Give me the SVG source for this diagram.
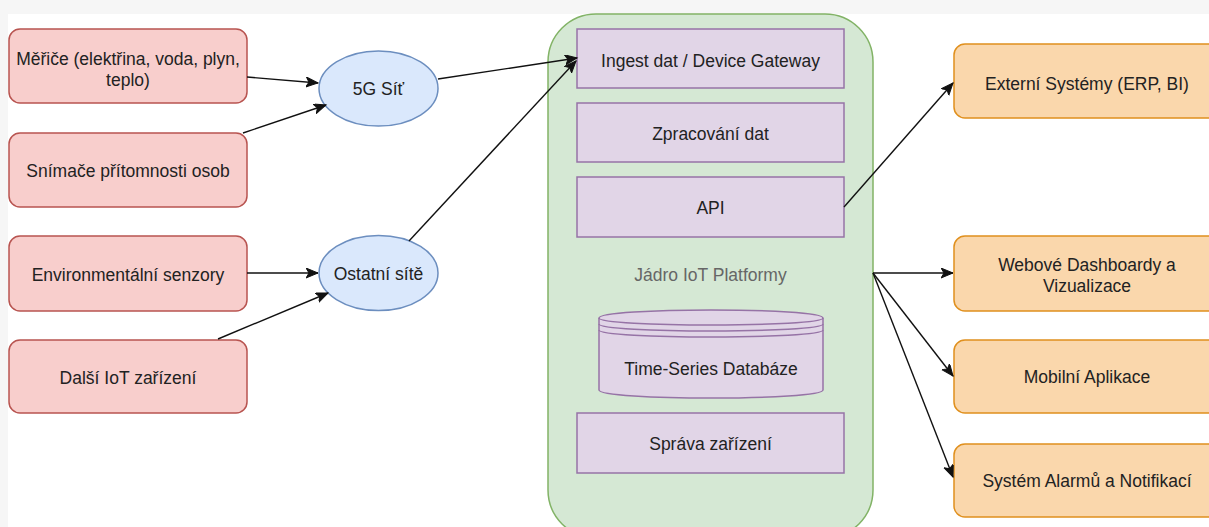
<svg xmlns="http://www.w3.org/2000/svg" width="1209" height="527" viewBox="0 0 1209 527">
  <defs>
    <style>
      text { font-family: "Liberation Sans", Arial, sans-serif; font-size: 17.5px; fill: #222; text-anchor: middle; }
      .dev { fill: #f8cecc; stroke: #b85450; stroke-width: 1.5; }
      .net { fill: #dae8fc; stroke: #6c8ebf; stroke-width: 1.5; }
      .core { fill: #d5e8d4; stroke: #82b366; stroke-width: 1.5; }
      .mod { fill: #e1d5e7; stroke: #9673a6; stroke-width: 1.5; }
      .out { fill: #fad7ac; stroke: #e0901e; stroke-width: 1.5; }
      .edge { fill: none; stroke: #111; stroke-width: 1.4; marker-end: url(#arrow); }
      .caption { fill: #666; }
    </style>
    <marker id="arrow" markerUnits="userSpaceOnUse" markerWidth="14" markerHeight="12" refX="12" refY="5" orient="auto">
      <path d="M0,0 L12,5 L0,10 L3,5 Z" fill="#111" stroke="#111" stroke-width="1"/>
    </marker>
  </defs>

  <!-- page background -->
  <rect x="0" y="0" width="1209" height="527" fill="#f6f6f6"/>
  <rect x="8" y="14" width="1201" height="513" fill="#ffffff"/>

  <!-- devices -->
  <g id="meters">
    <rect class="dev" x="9" y="29" width="238" height="74" rx="11"/>
    <text x="128" y="64.5">Měřiče (elektřina, voda, plyn,</text>
    <text x="128" y="85.5">teplo)</text>
  </g>
  <g id="occupancy">
    <rect class="dev" x="9" y="133" width="238" height="74" rx="11"/>
    <text x="128" y="176.5">Snímače přítomnosti osob</text>
  </g>
  <g id="env-sensors">
    <rect class="dev" x="9" y="236" width="238" height="75" rx="11"/>
    <text x="128" y="280.5">Environmentální senzory</text>
  </g>
  <g id="other-devices">
    <rect class="dev" x="9" y="340" width="238" height="73" rx="11"/>
    <text x="128" y="383.5">Další IoT zařízení</text>
  </g>

  <!-- networks -->
  <g id="net-5g">
    <ellipse class="net" cx="378.5" cy="88.5" rx="59.5" ry="37.5"/>
    <text x="378.5" y="95">5G Síť</text>
  </g>
  <g id="net-other">
    <ellipse class="net" cx="378.5" cy="273" rx="59.5" ry="37.5"/>
    <text x="378.5" y="280">Ostatní sítě</text>
  </g>

  <!-- platform core -->
  <g id="core">
    <path class="core" d="M596,14 L825,14 A48,48 0 0 1 873,62 L873,490 A48,48 0 0 1 825,538 L596,538 A48,48 0 0 1 548,490 L548,62 A48,48 0 0 1 596,14 Z"/>
    <text class="caption" x="710.5" y="280.5">Jádro IoT Platformy</text>
  </g>
  <g id="ingest">
    <rect class="mod" x="577" y="29" width="267" height="59"/>
    <text x="710.5" y="66.5">Ingest dat / Device Gateway</text>
  </g>
  <g id="processing">
    <rect class="mod" x="577" y="103" width="267" height="59"/>
    <text x="710.5" y="139.5">Zpracování dat</text>
  </g>
  <g id="api">
    <rect class="mod" x="577" y="177" width="267" height="60"/>
    <text x="710.5" y="213.5">API</text>
  </g>
  <g id="tsdb">
    <path class="mod" d="M599,318 C599,307.3 823,307.3 823,318 L823,390 C823,400.7 599,400.7 599,390 Z"/>
    <path class="mod" fill="none" d="M599,318 C599,327.3 823,327.3 823,318 M599,324 C599,333.3 823,333.3 823,324 M599,330 C599,339.3 823,339.3 823,330" style="fill:none"/>
    <text x="711" y="375">Time-Series Databáze</text>
  </g>
  <g id="device-mgmt">
    <rect class="mod" x="577" y="413" width="267" height="60"/>
    <text x="710.5" y="450">Správa zařízení</text>
  </g>

  <!-- consumers -->
  <g id="external">
    <rect class="out" x="954" y="44" width="266" height="74" rx="11"/>
    <text x="1087" y="90">Externí Systémy (ERP, BI)</text>
  </g>
  <g id="dashboards">
    <rect class="out" x="954" y="236" width="266" height="75" rx="11"/>
    <text x="1087" y="270.5">Webové Dashboardy a</text>
    <text x="1087" y="291.5">Vizualizace</text>
  </g>
  <g id="mobile">
    <rect class="out" x="954" y="340" width="266" height="73" rx="11"/>
    <text x="1087" y="383">Mobilní Aplikace</text>
  </g>
  <g id="alarms">
    <rect class="out" x="954" y="444" width="266" height="73" rx="11"/>
    <text x="1087" y="487">Systém Alarmů a Notifikací</text>
  </g>

  <!-- connectors -->
  <g id="connectors">
    <line class="edge" x1="247" y1="77" x2="318" y2="83"/>
    <line class="edge" x1="243" y1="133" x2="326" y2="105"/>
    <line class="edge" x1="247" y1="273" x2="318" y2="273"/>
    <line class="edge" x1="218" y1="339" x2="328" y2="293"/>
    <line class="edge" x1="438" y1="79" x2="577" y2="58"/>
    <line class="edge" x1="409" y1="241" x2="576" y2="61"/>
    <line class="edge" x1="844" y1="207" x2="953" y2="83"/>
    <line class="edge" x1="873" y1="273" x2="953" y2="273"/>
    <line class="edge" x1="873" y1="273" x2="953" y2="376"/>
    <line class="edge" x1="873" y1="273" x2="953" y2="477"/>
  </g>
</svg>
